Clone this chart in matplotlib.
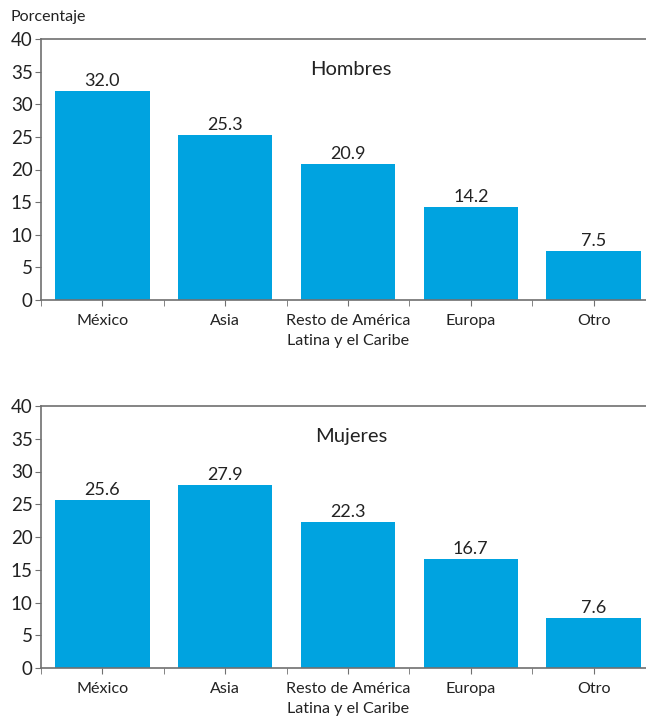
import matplotlib
matplotlib.use("Agg")
import matplotlib.pyplot as plt
import numpy as np

plt.rcParams['font.family'] = ['Lato', 'DejaVu Sans']

categories = ["México", "Asia", "Resto de América\nLatina y el Caribe", "Europa", "Otro"]
hombres = [32.0, 25.3, 20.9, 14.2, 7.5]
mujeres = [25.6, 27.9, 22.3, 16.7, 7.6]
titles = ["Hombres", "Mujeres"]
yticks = [0, 5, 10, 15, 20, 25, 30, 35, 40]

W, H = 646, 722
fig = plt.figure(figsize=(W / 100, H / 100), dpi=100)

bar_color = "#00A3E0"
spine_color = "#707070"
text_color = "#222222"

def make_axes(top_px, bottom_px):
    left_px, right_px = 41, 655
    return fig.add_axes([left_px / W, 1 - bottom_px / H,
                         (right_px - left_px) / W, (bottom_px - top_px) / H])

axes = [make_axes(39, 300), make_axes(406, 668)]
for ax, vals, title in zip(axes, [hombres, mujeres], titles):
    x = np.arange(len(categories))
    ax.bar(x, vals, width=0.77, color=bar_color, zorder=2)
    for xi, v in zip(x, vals):
        ax.text(xi, v + 0.3, f"{v:.1f}", ha="center", va="bottom", fontsize=13, color=text_color)
    ax.set_xlim(-0.5, len(categories) - 0.5)
    ax.set_ylim(0, 40)
    ax.set_yticks(yticks)
    ax.set_yticklabels([str(t) for t in yticks], fontsize=13.5, color=text_color)
    ax.set_xticks(x)
    ax.set_xticklabels(categories, fontsize=11.6, color=text_color, linespacing=1.55)
    ax.set_xticks(np.arange(-0.5, len(categories) + 0.5, 1), minor=True)
    ax.tick_params(axis="x", which="both", length=4, color=spine_color, pad=6)
    ax.tick_params(axis="y", length=4, color=spine_color, pad=2)
    for s in ["left", "top", "bottom"]:
        ax.spines[s].set_color(spine_color)
        ax.spines[s].set_linewidth(1.2)
    ax.spines["right"].set_visible(False)
    ax.text(0.505, 0.885, title, transform=ax.transAxes, ha="center", va="center",
            fontsize=14.5, color=text_color)

fig.text(10 / W, 1 - 17 / H, "Porcentaje", ha="left", va="center", fontsize=11.5, color=text_color)

fig.savefig("out.png", dpi=100)
